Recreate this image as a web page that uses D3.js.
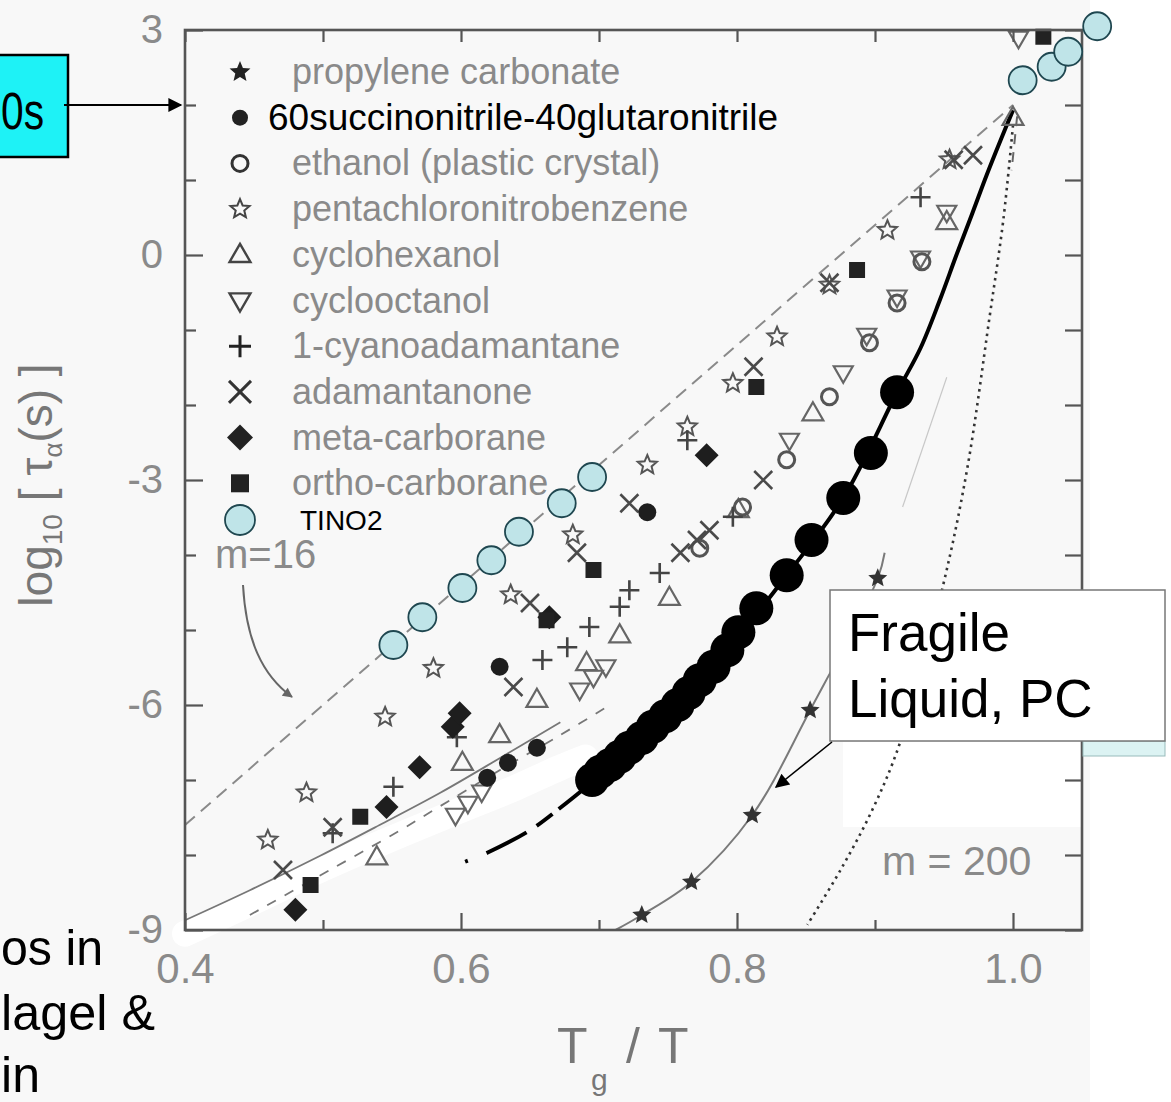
<!DOCTYPE html>
<html><head><meta charset="utf-8">
<script src="https://cdn.jsdelivr.net/npm/d3@7"></script>
<style>
body{margin:0;background:#f8f8f8;}
svg{display:block;font-family:"Liberation Sans",Arial,Helvetica,sans-serif;}
</style></head>
<body><svg id="c" width="1171" height="1102"></svg>
<script>
// ---------------- data ----------------
const xTicksMajor = [0.4, 0.6, 0.8, 1.0];
const xTickLabels = ["0.4", "0.6", "0.8", "1.0"];
const xTicksMinor = [0.5, 0.7, 0.9];
const yTicksMajor = [3, 0, -3, -6, -9];
const yTickLabels = ["3", "0", "-3", "-6", "-9"];
const yTicksMinor = [2, 1, -1, -2, -4, -5, -7, -8];

const legendLabels = ["propylene carbonate", "60succinonitrile-40glutaronitrile", "ethanol (plastic crystal)",
  "pentachloronitrobenzene", "cyclohexanol", "cyclooctanol", "1-cyanoadamantane", "adamantanone",
  "meta-carborane", "ortho-carborane", "TINO2"];

// propylene carbonate (filled stars) + fit
const pcX = [0.731, 0.767, 0.811, 0.853, 0.902];
const pcY = [-8.80, -8.36, -7.47, -6.07, -4.31];
const pcFitX = [0.712, 0.731, 0.767, 0.811, 0.853, 0.902, 0.907];
const pcFitY = [-9.0, -8.80, -8.36, -7.47, -6.07, -4.31, -3.97];

// 60 succinonitrile - 40 glutaronitrile
const snBigX = [0.695, 0.701, 0.708, 0.715, 0.722, 0.731, 0.739, 0.748, 0.757, 0.765, 0.773, 0.783, 0.793, 0.801, 0.814, 0.836, 0.854, 0.877, 0.897, 0.916];
const snBigY = [-7.00, -6.89, -6.80, -6.69, -6.57, -6.44, -6.29, -6.15, -6.00, -5.84, -5.67, -5.49, -5.27, -5.03, -4.71, -4.27, -3.80, -3.24, -2.64, -1.83];
const snSmallX = [0.619, 0.634, 0.655, 0.628, 0.735];
const snSmallY = [-6.97, -6.77, -6.57, -5.49, -3.43];
const snFitX = [0.603, 0.619, 0.650, 0.672, 0.695, 0.722, 0.757, 0.793, 0.836, 0.877, 0.916, 0.933, 0.947, 0.959, 0.970, 0.981, 0.991, 1.000];
const snFitY = [-8.09, -7.97, -7.67, -7.37, -7.03, -6.57, -6.00, -5.27, -4.27, -3.24, -1.83, -1.24, -0.60, 0.0, 0.53, 1.07, 1.53, 1.93];

// ethanol (open circles)
const ethX = [0.773, 0.804, 0.836, 0.867, 0.896, 0.916, 0.934];
const ethY = [-3.91, -3.36, -2.73, -1.89, -1.17, -0.64, -0.09];
// pentachloronitrobenzene (open stars)
const pcnbX = [0.460, 0.488, 0.545, 0.580, 0.636, 0.681, 0.735, 0.764, 0.797, 0.829, 0.867, 0.909, 0.954];
const pcnbY = [-7.80, -7.17, -6.16, -5.51, -4.53, -3.73, -2.80, -2.29, -1.71, -1.09, -0.40, 0.33, 1.27];
// cyclohexanol (up triangles)
const chexX = [0.539, 0.601, 0.628, 0.655, 0.691, 0.715, 0.751, 0.801, 0.855, 0.952, 1.000];
const chexY = [-8.03, -6.77, -6.40, -5.93, -5.44, -5.07, -4.57, -3.40, -2.11, 0.44, 1.83];
// cyclooctanol (down triangles)
const coctX = [0.596, 0.605, 0.615, 0.686, 0.696, 0.705, 0.838, 0.877, 0.894, 0.916, 0.933, 0.952, 1.004];
const coctY = [-7.47, -7.31, -7.16, -5.80, -5.63, -5.49, -2.47, -1.57, -1.07, -0.56, -0.04, 0.57, 2.89];
// 1-cyanoadamantane (plus)
const cyanX = [0.507, 0.551, 0.597, 0.659, 0.677, 0.693, 0.715, 0.722, 0.744, 0.797, 0.764, 0.933];
const cyanY = [-7.71, -7.09, -6.43, -5.40, -5.23, -4.96, -4.69, -4.47, -4.24, -3.49, -2.47, 0.77];
// adamantanone (times)
const adaX = [0.471, 0.507, 0.638, 0.650, 0.684, 0.722, 0.759, 0.771, 0.780, 0.819, 0.812, 0.867, 0.957, 0.971];
const adaY = [-8.20, -7.63, -5.76, -4.64, -3.97, -3.31, -3.97, -3.80, -3.67, -3.00, -1.49, -0.37, 1.27, 1.33];
// meta-carborane (diamonds)
const metaX = [0.480, 0.546, 0.570, 0.594, 0.599, 0.664, 0.778];
const metaY = [-8.73, -7.36, -6.83, -6.29, -6.11, -4.83, -2.67];
// ortho-carborane (squares)
const orthoX = [0.491, 0.527, 0.662, 0.696, 0.814, 0.887, 1.022];
const orthoY = [-8.40, -7.49, -4.87, -4.20, -1.76, -0.20, 2.91];
// TINO2
const tinoX = [0.551, 0.572, 0.601, 0.622, 0.642, 0.673, 0.695, 1.007, 1.028, 1.040, 1.061];
const tinoY = [-5.20, -4.83, -4.44, -4.07, -3.69, -3.31, -2.96, 2.33, 2.51, 2.71, 3.05];

// reference curves
const m16X = [0.4, 1.0];
const m16Y = [-7.6, 2.0];
const m200X = [1.000, 0.993, 0.983, 0.967, 0.949, 0.918, 0.898, 0.875, 0.851];
const m200Y = [1.73, 0.47, -0.83, -2.83, -4.43, -6.51, -7.40, -8.20, -8.93];
const solidLowX = [0.400, 0.447, 0.498, 0.541, 0.585, 0.628, 0.672];
const solidLowY = [-8.87, -8.47, -8.01, -7.60, -7.17, -6.71, -6.23];
const dashLowX = [0.447, 0.505, 0.556, 0.583, 0.628, 0.672, 0.708];
const dashLowY = [-8.80, -8.20, -7.67, -7.37, -6.87, -6.40, -6.00];
const faintX = [0.952, 0.920];
const faintY = [-1.63, -3.36];
const dashTopX = [1.003, 0.999];
const dashTopY = [1.85, 1.13];
// erased (white) band in the scan
const bandX = [0.400, 0.450, 0.500, 0.550, 0.600, 0.640, 0.670, 0.690];
const bandY = [-9.05, -8.62, -8.18, -7.78, -7.40, -7.10, -6.85, -6.70];

// ---------------- drawing ----------------
const svg = d3.select("#c");
const x = d3.scaleLinear().domain([0.4, 1.05]).range([185, 1082]);
const y = d3.scaleLinear().domain([-9, 3]).range([930, 30]);
const zip = (xs, ys) => xs.map((v, i) => ({x: v, y: ys[i]}));
const line = d3.line().x(d => x(d.x)).y(d => y(d.y)).curve(d3.curveCatmullRom);

svg.append("rect").attr("width", 1171).attr("height", 1102).attr("fill", "#f8f8f8");
svg.append("rect").attr("x", 1090).attr("y", 0).attr("width", 81).attr("height", 1102).attr("fill", "#fff");
svg.append("rect").attr("x", 843).attr("y", 742).attr("width", 240).attr("height", 85).attr("fill", "#fff");

const defs = svg.append("defs");
defs.append("marker").attr("id", "ah").attr("viewBox", "0 0 10 10").attr("refX", 9).attr("refY", 5)
  .attr("markerWidth", 16).attr("markerHeight", 14).attr("markerUnits", "userSpaceOnUse").attr("orient", "auto")
  .append("path").attr("d", "M0,0L10,5L0,10z").attr("fill", "#000");
defs.append("marker").attr("id", "ahg").attr("viewBox", "0 0 10 10").attr("refX", 9).attr("refY", 5)
  .attr("markerWidth", 12).attr("markerHeight", 10).attr("markerUnits", "userSpaceOnUse").attr("orient", "auto")
  .append("path").attr("d", "M0,0L10,5L0,10z").attr("fill", "#666");

// white erased band
svg.append("path").attr("d", line(zip(bandX, bandY))).attr("fill", "none")
  .attr("stroke", "#fff").attr("stroke-width", 26).attr("stroke-linecap", "round");

// curves
const curves = svg.append("g");
curves.append("path").attr("d", line(zip(m16X, m16Y))).attr("fill", "none").attr("stroke", "#8a8a8a").attr("stroke-width", 2).attr("stroke-dasharray", "13,8");
curves.append("path").attr("d", line(zip(solidLowX, solidLowY))).attr("fill", "none").attr("stroke", "#777").attr("stroke-width", 1.8);
curves.append("path").attr("d", line(zip(dashLowX, dashLowY))).attr("fill", "none").attr("stroke", "#777").attr("stroke-width", 1.8).attr("stroke-dasharray", "10,10");
curves.append("path").attr("d", line(zip(faintX, faintY))).attr("fill", "none").attr("stroke", "#c8c8c8").attr("stroke-width", 1.2);
curves.append("path").attr("d", line(zip(dashTopX, dashTopY))).attr("fill", "none").attr("stroke", "#666").attr("stroke-width", 2).attr("stroke-dasharray", "10,8");
curves.append("path").attr("d", line(zip(m200X, m200Y))).attr("fill", "none").attr("stroke", "#333").attr("stroke-width", 2.6).attr("stroke-dasharray", "2.5,4.5");
curves.append("path").attr("d", line(zip(pcFitX, pcFitY))).attr("fill", "none").attr("stroke", "#7a7a7a").attr("stroke-width", 2);
const snFit = zip(snFitX, snFitY);
curves.append("path").attr("d", line(snFit.filter(d => d.x <= 0.695))).attr("fill", "none").attr("stroke", "#000").attr("stroke-width", 4).attr("stroke-dasharray", "3,20,45,12,20,8,400");
curves.append("path").attr("d", line(snFit.filter(d => d.x >= 0.695))).attr("fill", "none").attr("stroke", "#000").attr("stroke-width", 4);

// symbol types (size = radius)
const T = {
  circle: {draw(c, r) { c.moveTo(r, 0); c.arc(0, 0, r, 0, 2 * Math.PI); }},
  square: {draw(c, r) { c.rect(-r, -r, 2 * r, 2 * r); }},
  diamond: {draw(c, r) { c.moveTo(0, -r); c.lineTo(r, 0); c.lineTo(0, r); c.lineTo(-r, 0); c.closePath(); }},
  triUp: {draw(c, r) { c.moveTo(0, -r); c.lineTo(r * 0.95, r * 0.65); c.lineTo(-r * 0.95, r * 0.65); c.closePath(); }},
  triDown: {draw(c, r) { c.moveTo(0, r); c.lineTo(r * 0.95, -r * 0.65); c.lineTo(-r * 0.95, -r * 0.65); c.closePath(); }},
  plus: {draw(c, r) { c.moveTo(-r, 0); c.lineTo(r, 0); c.moveTo(0, -r); c.lineTo(0, r); }},
  times: {draw(c, r) { c.moveTo(-r, -r); c.lineTo(r, r); c.moveTo(-r, r); c.lineTo(r, -r); }},
  star: {draw(c, r) {
    for (let i = 0; i < 10; i++) {
      const a = -Math.PI / 2 + i * Math.PI / 5, rr = i % 2 ? r * 0.45 : r;
      const px = rr * Math.cos(a), py = rr * Math.sin(a);
      i ? c.lineTo(px, py) : c.moveTo(px, py);
    }
    c.closePath();
  }}
};
function drawSeries(xs, ys, type, r, fill, stroke, sw) {
  svg.append("g").selectAll("path").data(zip(xs, ys)).join("path")
    .attr("transform", d => `translate(${x(d.x)},${y(d.y)})`)
    .attr("d", d3.symbol().type(T[type]).size(r))
    .attr("fill", fill).attr("stroke", stroke).attr("stroke-width", sw);
}
drawSeries(pcnbX, pcnbY, "star", 10, "none", "#555", 2);
drawSeries(chexX, chexY, "triUp", 11, "none", "#666", 2.2);
drawSeries(coctX, coctY, "triDown", 10, "none", "#666", 2.2);
drawSeries(ethX, ethY, "circle", 8, "none", "#555", 3);
drawSeries(cyanX, cyanY, "plus", 10, "none", "#444", 2.6);
drawSeries(adaX, adaY, "times", 9, "none", "#4a4a4a", 2.6);
drawSeries(metaX, metaY, "diamond", 12, "#1e1e1e", "none", 0);
drawSeries(orthoX, orthoY, "square", 8, "#222", "none", 0);
drawSeries(snSmallX, snSmallY, "circle", 9, "#1e1e1e", "none", 0);
drawSeries(pcX, pcY, "star", 10, "#333", "none", 0);
drawSeries(snBigX, snBigY, "circle", 17, "#000", "none", 0);

// axes
const tickStyle = g => { g.select(".domain").remove(); g.selectAll("line").attr("stroke", "#555").attr("stroke-width", 2.2); };
const labStyle = (g, fs) => g.selectAll("text").attr("fill", "#8a8a8a").attr("font-size", fs).attr("font-family", "Liberation Sans, Arial, sans-serif");
svg.append("g").attr("transform", "translate(0,930)")
  .call(d3.axisBottom(x).tickValues(xTicksMajor).tickSize(-17).tickPadding(23).tickFormat((d, i) => xTickLabels[i]))
  .call(tickStyle).call(g => labStyle(g, 42));
svg.append("g").attr("transform", "translate(0,930)")
  .call(d3.axisBottom(x).tickValues(xTicksMinor).tickSize(-10).tickFormat("")).call(tickStyle);
svg.append("g").attr("transform", "translate(0,30)")
  .call(d3.axisTop(x).tickValues(xTicksMajor.concat(xTicksMinor)).tickSize(-12).tickFormat("")).call(tickStyle);
svg.append("g").attr("transform", "translate(185,0)")
  .call(d3.axisLeft(y).tickValues(yTicksMajor).tickSize(-18).tickPadding(22).tickFormat((d, i) => yTickLabels[i]))
  .call(tickStyle).call(g => labStyle(g, 40));
svg.append("g").attr("transform", "translate(185,0)")
  .call(d3.axisLeft(y).tickValues(yTicksMinor).tickSize(-11).tickFormat("")).call(tickStyle);
svg.append("g").attr("transform", "translate(1082,0)")
  .call(d3.axisRight(y).tickValues(yTicksMajor.concat(yTicksMinor)).tickSize(-17).tickFormat("")).call(tickStyle);
svg.append("rect").attr("x", 185).attr("y", 30).attr("width", 897).attr("height", 900)
  .attr("fill", "none").attr("stroke", "#555").attr("stroke-width", 2.6);

// axis titles
const yt = svg.append("text").attr("transform", "translate(52,485) rotate(-90)").attr("text-anchor", "middle")
  .attr("font-size", 46).attr("fill", "#777");
yt.append("tspan").text("log");
yt.append("tspan").attr("font-size", 28).attr("dy", 10).text("10");
yt.append("tspan").attr("dy", -10).text(" [ τ");
yt.append("tspan").attr("font-size", 26).attr("dy", 10).text("α");
yt.append("tspan").attr("dy", -10).text("(s) ]");
const xt = svg.append("g").attr("fill", "#777");
xt.append("text").attr("x", 557).attr("y", 1063).attr("font-size", 50).text("T");
xt.append("text").attr("x", 591).attr("y", 1090).attr("font-size", 30).text("g");
xt.append("text").attr("x", 626).attr("y", 1063).attr("font-size", 50).text("/");
xt.append("text").attr("x", 658).attr("y", 1063).attr("font-size", 50).text("T");

// legend
const legSym = [
  {t: "star", r: 11, f: "#222", s: "none", w: 0},
  {t: "circle", r: 8, f: "#222", s: "none", w: 0},
  {t: "circle", r: 8, f: "none", s: "#333", w: 3},
  {t: "star", r: 10, f: "none", s: "#444", w: 2},
  {t: "triUp", r: 11, f: "none", s: "#444", w: 2.4},
  {t: "triDown", r: 11, f: "none", s: "#444", w: 2.4},
  {t: "plus", r: 11, f: "none", s: "#222", w: 3},
  {t: "times", r: 11, f: "none", s: "#333", w: 3},
  {t: "diamond", r: 13, f: "#222", s: "none", w: 0},
  {t: "square", r: 9, f: "#222", s: "none", w: 0},
  {t: "circle", r: 15, f: "#bfe4e8", s: "#1f4750", w: 1.8}
];
const leg = svg.append("g");
legendLabels.forEach((lab, i) => {
  const cy = i < 10 ? 72 + i * 45.7 : 520;
  const sy = legSym[i];
  leg.append("path").attr("transform", `translate(240,${cy})`).attr("d", d3.symbol().type(T[sy.t]).size(sy.r))
    .attr("fill", sy.f).attr("stroke", sy.s).attr("stroke-width", sy.w);
  const t = leg.append("text").attr("y", cy + 12).text(lab);
  if (i === 1) t.attr("x", 268).attr("font-size", 37).attr("fill", "#000");
  else if (i === 10) t.attr("x", 300).attr("y", cy + 10).attr("font-size", 28).attr("fill", "#000");
  else t.attr("x", 292).attr("font-size", 36).attr("fill", "#8a8a8a");
});

// TINO2 circles (on top)
drawSeries(tinoX, tinoY, "circle", 14, "#bfe4e8", "#1f4750", 1.8);

// annotations in the scan
svg.append("text").attr("x", 215).attr("y", 568).attr("font-size", 40).attr("fill", "#8a8a8a").text("m=16");
svg.append("path").attr("d", "M243,585 C246,640 262,675 292,697").attr("fill", "none").attr("stroke", "#666")
  .attr("stroke-width", 2).attr("marker-end", "url(#ahg)");
svg.append("text").attr("x", 882).attr("y", 875).attr("font-size", 41).attr("fill", "#8a8a8a").text("m = 200");

// Fragile liquid box
svg.append("rect").attr("x", 1083).attr("y", 741).attr("width", 82).attr("height", 15).attr("fill", "#dcf3f3").attr("stroke", "#9bb").attr("stroke-width", 1);
svg.append("rect").attr("x", 830).attr("y", 590).attr("width", 335).attr("height", 151).attr("fill", "#fff").attr("stroke", "#777").attr("stroke-width", 1.5);
svg.append("text").attr("x", 848).attr("y", 651).attr("font-size", 53).attr("fill", "#000").text("Fragile");
svg.append("text").attr("x", 848).attr("y", 717).attr("font-size", 53).attr("fill", "#000").text("Liquid, PC");
svg.append("line").attr("x1", 832).attr("y1", 742).attr("x2", 776).attr("y2", 787).attr("stroke", "#000").attr("stroke-width", 1.6).attr("marker-end", "url(#ah)");

// cyan label box (cut off at left in the source)
svg.append("rect").attr("x", -10).attr("y", 55).attr("width", 78).attr("height", 102).attr("fill", "#1ef2f6").attr("stroke", "#000").attr("stroke-width", 2.5);
svg.append("text").attr("x", 1).attr("y", 129).attr("font-size", 52).attr("fill", "#000")
  .attr("textLength", 43).attr("lengthAdjust", "spacingAndGlyphs").text("0s");
svg.append("line").attr("x1", 64).attr("y1", 105).attr("x2", 181).attr("y2", 105).attr("stroke", "#000").attr("stroke-width", 2).attr("marker-end", "url(#ah)");

// caption fragments at bottom left
const cap = svg.append("g").attr("font-size", 50).attr("fill", "#000");
cap.append("text").attr("x", 1).attr("y", 965).attr("textLength", 102).attr("lengthAdjust", "spacingAndGlyphs").text("os in");
cap.append("text").attr("x", 1).attr("y", 1030).attr("textLength", 154).attr("lengthAdjust", "spacingAndGlyphs").text("lagel &");
cap.append("text").attr("x", 1).attr("y", 1092).attr("textLength", 39).attr("lengthAdjust", "spacingAndGlyphs").text("in");
</script></body></html>
